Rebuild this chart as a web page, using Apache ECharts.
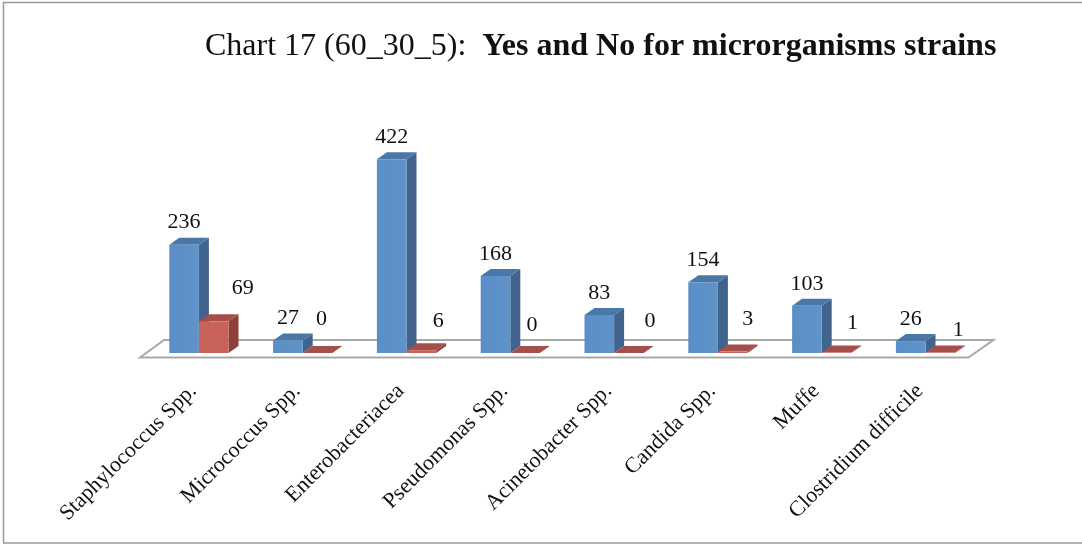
<!DOCTYPE html>
<html>
<head>
<meta charset="utf-8">
<style>html,body{margin:0;padding:0;background:#fff}#chart{width:1082px;height:545px}</style>
<script src="https://cdn.jsdelivr.net/npm/echarts@6/dist/echarts.min.js"></script>
</head>
<body>
<div id="chart"></div>
<script>
// Strain counts per microorganism group
const categories = ['Staphylococcus Spp.', 'Micrococcus Spp.', 'Enterobacteriacea', 'Pseudomonas Spp.',
  'Acinetobacter Spp.', 'Candida Spp.', 'Muffe', 'Clostridium difficile'];
const yesValues = [236, 27, 422, 168, 83, 154, 103, 26];
const noValues = [69, 0, 6, 0, 0, 3, 1, 1];

// Hand-placed label shifts for the "No" series, in pixels
const noLabelDx = [29, 4, 17, 7, 21, 15, 16, 18];
const noLabelDy = [-33, -34, -29, -28, -32, -32, -29, -22];

const GRID = { left: 147, width: 830.4, top: 123.5, height: 229.5 };
const BAR_W = 29.6, DEPTH_X = 10, DEPTH_Y = 7;
const SERIF = '"Liberation Serif", "Times New Roman", serif';

function box(x, top, base, colors) {
  const w = BAR_W, dx = DEPTH_X, dy = DEPTH_Y;
  return [
    { type: 'polygon', shape: { points: [[x + w, top], [x + w + dx, top - dy], [x + w + dx, base - dy], [x + w, base]] },
      style: { fill: colors.side } },
    { type: 'polygon', shape: { points: [[x, top], [x + dx, top - dy], [x + w + dx, top - dy], [x + w, top]] },
      style: { fill: colors.top } },
    { type: 'rect', shape: { x: x, y: top, width: w, height: base - top },
      style: { fill: colors.front } }
  ];
}

function barSeries(name, values, side, colors, labelDx, labelDy) {
  return {
    type: 'custom', name: name, data: values, z: 3,
    encode: { x: 0, y: 1 },
    renderItem(params, api) {
      const i = params.dataIndex;
      const v = values[i];
      const c = api.coord([i, v]);
      const base = api.coord([i, 0])[1];
      const x = side === 'yes' ? c[0] - BAR_W : c[0];
      const children = box(x, c[1], base, colors);
      children.push({
        type: 'text',
        style: {
          x: x + BAR_W / 2 + labelDx(i), y: c[1] + labelDy(i), text: String(v),
          align: 'center', verticalAlign: 'middle',
          font: '22px ' + SERIF, fill: '#111'
        }
      });
      return { type: 'group', children: children };
    }
  };
}

const yesColors = {
  front: { type: 'linear', x: 0, y: 0, x2: 1, y2: 0, colorStops: [{ offset: 0, color: '#5a8ec7' }, { offset: 1, color: '#5f93c9' }] },
  side: '#41648f', top: '#4a76a8'
};
const noColors = { front: '#c9635a', side: '#8e3f3a', top: '#a64e49' };

// Grey floor panel under the bars
const floorSeries = {
  type: 'custom', data: [0], z: 1, silent: true,
  encode: { x: 0, y: 0 },
  renderItem(params, api) {
    const base = api.coord([0, 0])[1];
    const l = GRID.left, r = GRID.left + GRID.width;
    return {
      type: 'polygon',
      shape: { points: [[l - 7, base + 4.5], [l + 17, base - 13], [r + 16, base - 13], [r - 9, base + 4.5]] },
      style: { fill: '#fff', stroke: '#a8a8a8', lineWidth: 2 }
    };
  }
};

const chart = echarts.init(document.getElementById('chart'), null, { renderer: 'canvas' });
chart.setOption({
  animation: false,
  backgroundColor: '#fff',
  title: {
    left: 200, top: 26,
    text: '{r|Chart 17 (60_30_5):  }{b|Yes and No for microrganisms strains}',
    textStyle: {
      fontWeight: 'normal',
      rich: {
        r: { fontFamily: SERIF, fontSize: 32, fontWeight: 'normal', color: '#111' },
        b: { fontFamily: SERIF, fontSize: 32, fontWeight: 'bold', color: '#111' }
      }
    }
  },
  grid: GRID,
  xAxis: {
    type: 'category', data: categories,
    axisLine: { show: false }, axisTick: { show: false },
    axisLabel: { rotate: 45, interval: 0, margin: 29, padding: [0, 8, 0, 0], fontFamily: SERIF, fontSize: 22, color: '#111' }
  },
  yAxis: { type: 'value', min: 0, max: 500, show: false },
  series: [
    floorSeries,
    barSeries('Yes', yesValues, 'yes', yesColors, () => 0, () => -22),
    barSeries('No', noValues, 'no', noColors, i => noLabelDx[i], i => noLabelDy[i])
  ],
  graphic: [{
    type: 'polyline', silent: true,
    shape: { points: [[3.5, 543.5], [3.5, 2.5], [1082, 2.5]] },
    style: { fill: 'none', stroke: '#999', lineWidth: 1.5 }
  }, {
    type: 'line', silent: true,
    shape: { x1: 3.5, y1: 543, x2: 1082, y2: 543 },
    style: { stroke: '#999', lineWidth: 1.5 }
  }]
});
</script>
</body>
</html>
